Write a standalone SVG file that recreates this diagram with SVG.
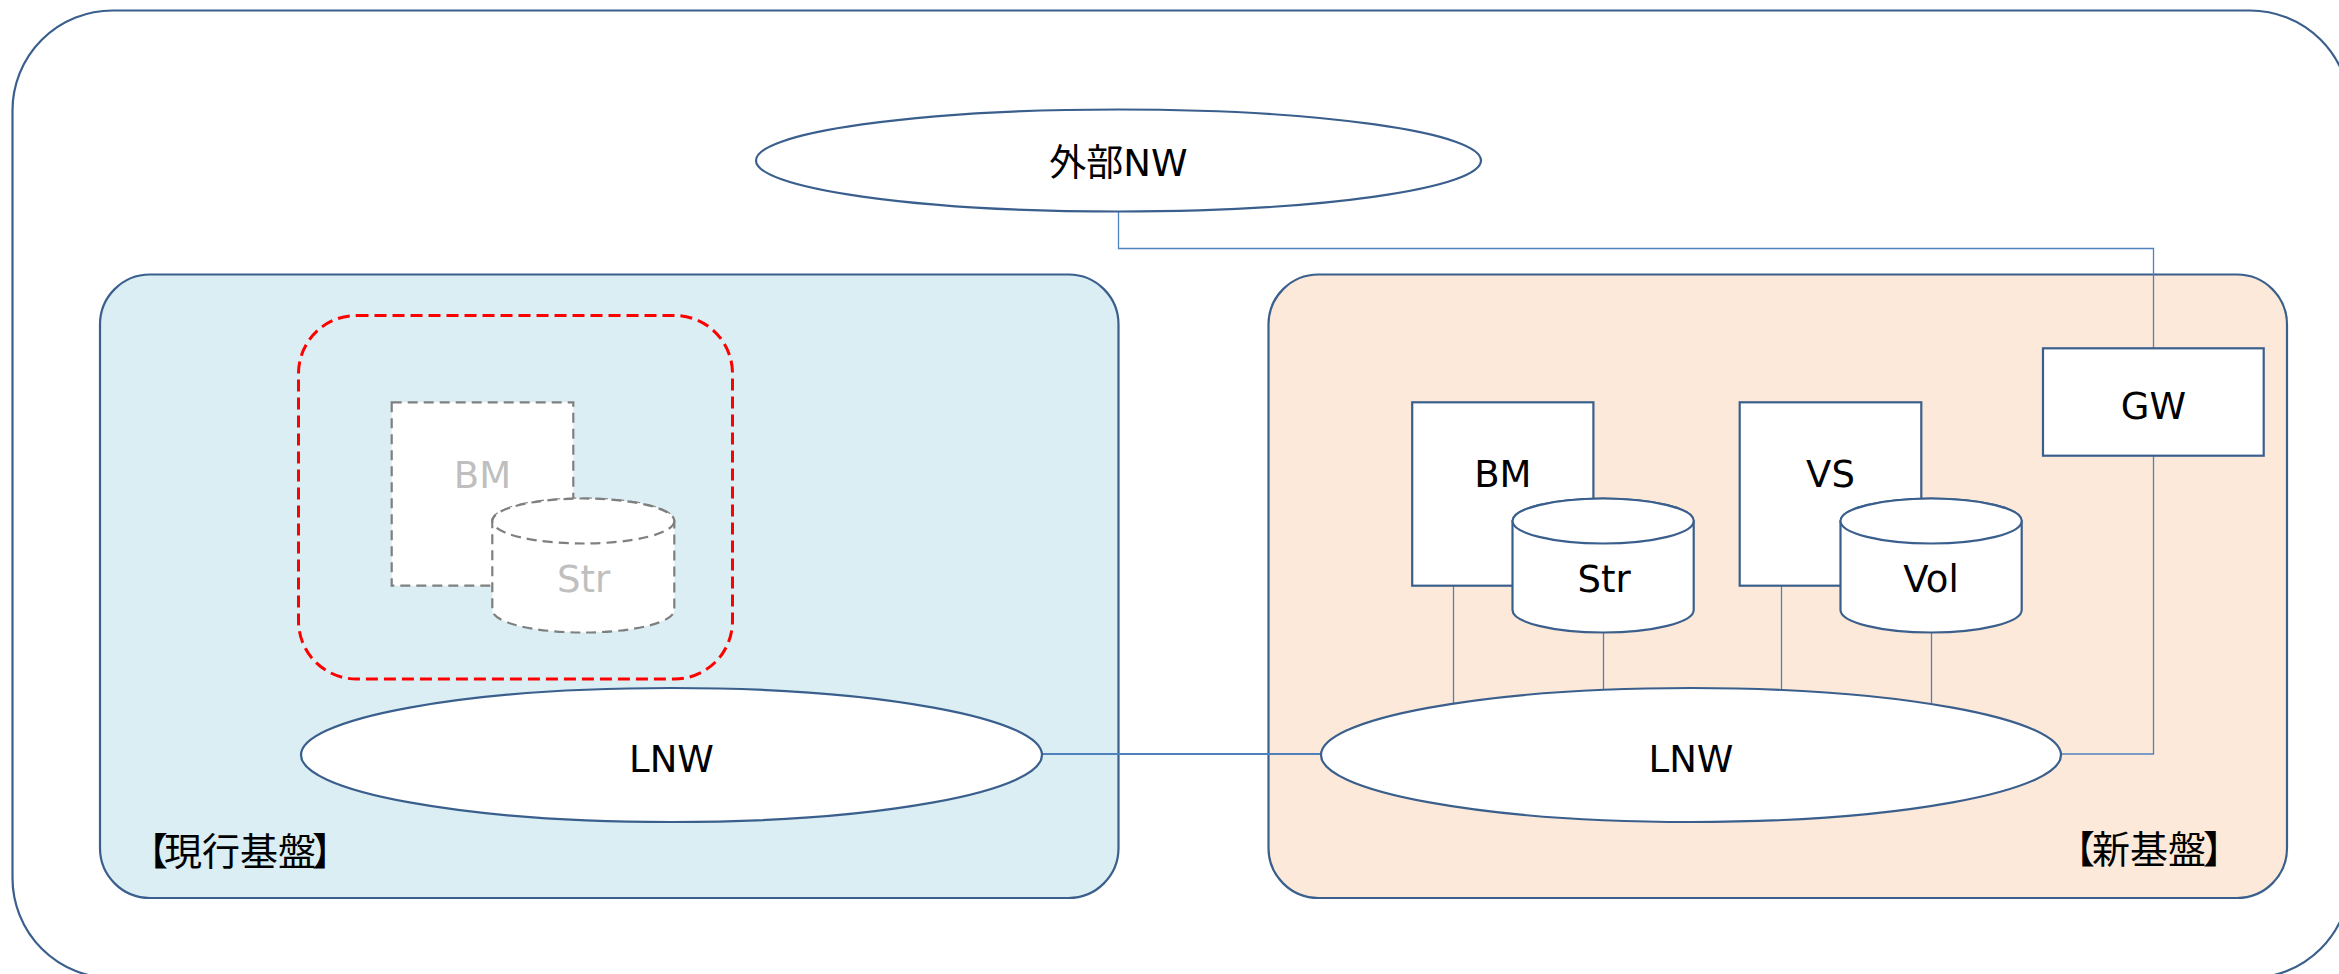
<svg xmlns="http://www.w3.org/2000/svg" width="2339" height="974" viewBox="0 0 2339 974">
<style>
  .shape { stroke: #3A5F8D; stroke-width: 2.2; fill: #FFFFFF; }
  .lbl { font-family: "DejaVu Sans", "Noto Sans CJK JP", sans-serif; font-size: 37px; fill: #000000; text-anchor: middle; }
  .jp { font-family: "Noto Sans CJK JP", sans-serif; font-size: 38px; font-weight: 400; fill: #000000; }
  .ghost { stroke: #7F7F7F; stroke-width: 2.2; stroke-dasharray: 10 6; fill: #FFFFFF; }
  .ghosttxt { fill: #BFBFBF; }
  .conn { stroke: #4F81BD; stroke-width: 1.3; fill: none; }
</style>
<rect width="2339" height="974" fill="#FFFFFF"/>

<g id="outer">
  <rect x="12.5" y="10.5" width="2337.5" height="967.5" rx="100" ry="100" class="shape"/>
</g>

<g id="current-platform">
  <rect x="100" y="274.5" width="1018.5" height="623.5" rx="50" ry="50" style="fill:#DAEEF3;stroke:#3A5F8D;stroke-width:2.2"/>
  <text class="jp" x="130" y="865">【<tspan dx="-4">現行基盤</tspan><tspan dx="-4">】</tspan></text>
</g>

<g id="new-platform">
  <rect x="1268.5" y="274.5" width="1018.5" height="623.5" rx="50" ry="50" style="fill:#FDE9D9;stroke:#3A5F8D;stroke-width:2.2"/>
  <text class="jp" x="2057" y="863">【<tspan dx="-3">新基盤</tspan><tspan dx="-3">】</tspan></text>
</g>

<g id="connectors">
  <path class="conn" d="M1118.5 211.5 V248.5 H2153.5 V348.5"/>
  <path class="conn" d="M2153.5 455.5 V754 H2061"/>
  <path class="conn" style="stroke-width:2" d="M1042 754 H1321"/>
  <path class="conn" d="M1453.5 585.5 V703"/>
  <path class="conn" d="M1603.5 632 V689"/>
  <path class="conn" d="M1781.5 585.5 V689"/>
  <path class="conn" d="M1931.5 632 V703"/>
</g>

<g id="external-nw">
  <ellipse cx="1118.5" cy="160.5" rx="362.5" ry="51" class="shape"/>
  <text class="lbl" x="1118.5" y="176">外部NW</text>
</g>

<g id="migration-scope">
  <rect x="298.5" y="315.5" width="434" height="363.5" rx="58" ry="58" style="fill:none;stroke:#FF0000;stroke-width:3;stroke-dasharray:12 6"/>
</g>

<g id="old-bm">
  <rect x="391.7" y="402.3" width="181.6" height="183.4" class="ghost"/>
  <text class="lbl ghosttxt" x="482.5" y="487.5">BM</text>
</g>

<g id="old-str">
  <path class="ghost" d="M492.3 521 A91 22.5 0 0 1 674.3 521 V610 A91 22.5 0 0 1 492.3 610 Z"/>
  <ellipse cx="583.3" cy="521" rx="91" ry="22.5" class="ghost"/>
  <text class="lbl ghosttxt" x="583.5" y="591.5">Str</text>
</g>

<g id="old-lnw">
  <ellipse cx="671.5" cy="755" rx="370.5" ry="67" class="shape"/>
  <text class="lbl" x="671.5" y="771.5">LNW</text>
</g>

<g id="new-bm">
  <rect x="1412.2" y="402.3" width="181.2" height="183.4" class="shape"/>
  <text class="lbl" x="1502.8" y="487">BM</text>
</g>

<g id="new-str">
  <path class="shape" d="M1512.5 521 A90.6 22.5 0 0 1 1693.7 521 V610 A90.6 22.5 0 0 1 1512.5 610 Z"/>
  <ellipse cx="1603.1" cy="521" rx="90.6" ry="22.5" class="shape"/>
  <text class="lbl" x="1604" y="591.5">Str</text>
</g>

<g id="new-vs">
  <rect x="1739.7" y="402.3" width="181.6" height="183.4" class="shape"/>
  <text class="lbl" x="1830.5" y="487">VS</text>
</g>

<g id="new-vol">
  <path class="shape" d="M1840.5 521 A90.6 22.5 0 0 1 2021.7 521 V610 A90.6 22.5 0 0 1 1840.5 610 Z"/>
  <ellipse cx="1931.1" cy="521" rx="90.6" ry="22.5" class="shape"/>
  <text class="lbl" x="1931" y="591.5">Vol</text>
</g>

<g id="gw">
  <rect x="2043" y="348.3" width="220.7" height="107.4" class="shape"/>
  <text class="lbl" x="2153.5" y="418.5">GW</text>
</g>

<g id="new-lnw">
  <ellipse cx="1691" cy="755" rx="370" ry="67" class="shape"/>
  <text class="lbl" x="1691" y="771.5">LNW</text>
</g>
</svg>
